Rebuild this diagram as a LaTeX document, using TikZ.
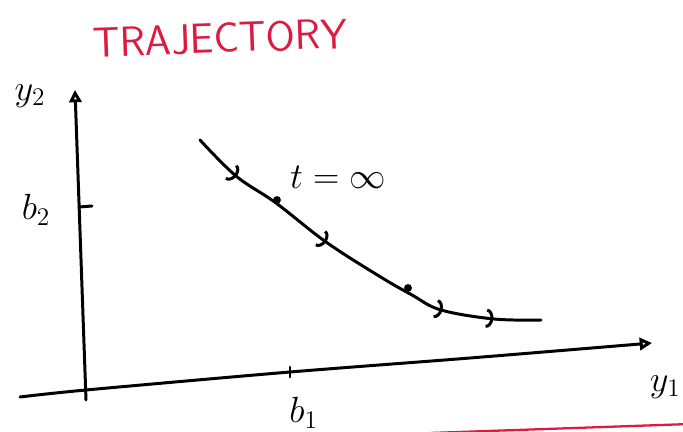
\documentclass[tikz,border=0pt]{standalone}
\usepackage{amsmath,amssymb}
\usepackage{tikz}
\usetikzlibrary{arrows.meta,positioning,calc,decorations.markings}
\usepackage{xcolor}
\definecolor{penred}{RGB}{221,26,64}

\begin{document}
\begin{tikzpicture}[x=0.02cm, y=-0.02cm, >=Stealth,
  pen/.style={line width=1.7pt, line cap=round, line join=round},
  lbl/.style={font=\fontsize{22}{26}\selectfont, inner sep=0pt},
  flowmarks/.style={postaction={decorate}, decoration={markings,
    mark=at position 0.13 with {\arrow{Arc Barb[length=4pt, width=11pt]}},
    mark=at position 0.41 with {\arrow{Arc Barb[length=4pt, width=11pt]}},
    mark=at position 0.75 with {\arrow{Arc Barb[length=4pt, width=11pt]}},
    mark=at position 0.88 with {\arrow{Arc Barb[length=4pt, width=11pt]}}}},
  dot/.style={circle, fill, inner sep=0pt, minimum size=4.5pt}]

  \useasboundingbox (0,0) rectangle (683,432);

  % Define nodes
  \node[text=penred, font=\fontsize{24}{28}\selectfont\sffamily, rotate=2] (title) at (220,38) {TRAJECTORY};
  \coordinate (Ybot) at (86,400);
  \coordinate (Ytop) at (75,90);
  \coordinate (Xleft) at (20,397);
  \coordinate (O) at (86,390);
  \coordinate (B1) at (290,372);
  \coordinate (Xright) at (652,343);
  \coordinate (B2) at (79,207);
  \node[lbl] (y2) at (30,96) {$y_2$};
  \node[lbl] (b2) at (36,210) {$b_2$};
  \node[lbl, anchor=north west] (b1) at (289,397) {$b_1$};
  \node[lbl, anchor=east] (y1) at (681,387) {$y_1$};
  \node[lbl, font=\fontsize{20}{24}\selectfont] (tinf) at (338,177) {$t=\infty$};
  \node[dot] (p1) at (277,200) {};
  \node[dot] (p2) at (408,288) {};

  % Draw axes
  \draw[pen, -{Triangle[open, length=7pt, width=7pt]}] (Ybot) -- (Ytop);
  \draw[pen, -{Triangle[open, length=7pt, width=7pt]}] plot[smooth] coordinates
    {(Xleft) (O) (B1) (470,358) (Xright)};
  \draw[pen] (B2) -- ++(13,-1);
  \draw[pen] (B1) ++(0,-5) -- ++(0,10);

  % Draw trajectory
  \draw[pen, flowmarks] plot[smooth, tension=0.6] coordinates
    {(200,140) (236,176) (276,203) (326,242) (379,276) (412,295) (441,310) (494,319) (541,320)};

  % Red stroke at the bottom
  \draw[penred, line width=1.3pt] (430,433) -- (690,424);
\end{tikzpicture}
\end{document}
